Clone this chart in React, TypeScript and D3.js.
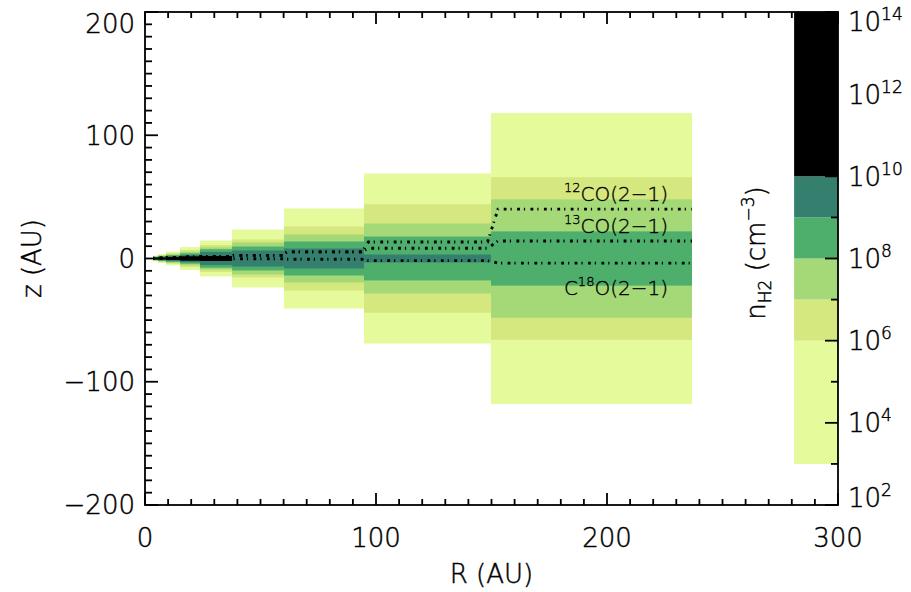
import React from 'react';
import * as d3 from 'd3';

const W = 911;
const H = 592;

// Radial cell edges (AU)
const rEdges = [3.5, 5.6, 9.1, 15.2, 23.8, 37.7, 60.2, 94.8, 149.8, 236.8];
// Half-thickness (AU) of each density zone in every cell
const hPale = [2.4, 3.6, 5.5, 9.3, 14.6, 23.5, 40.6, 69, 118];
const hYellow = [2.0, 2.9, 4.3, 7.0, 11.0, 15.4, 26.0, 44, 66];
const hLight = [1.6, 2.4, 3.5, 5.5, 9.0, 13.0, 19.5, 28.4, 48];
const hGreen = [1.3, 1.9, 2.8, 4.2, 7.5, 9.7, 13.8, 17.8, 22];
const hTeal = [1.0, 1.4, 2.0, 3.0, 5.3, 6.5, 8.1, 3.2, 0];
const hBlack = [0.6, 0.9, 1.2, 1.8, 2.0, 0, 0, 0, 0];

// Colour classes: log10 n_H2 bounds
const levelBounds = [3, 6, 7, 8, 9, 10, 14];
const levelColors = ['#e5fa9b', '#d5e77f', '#a5d978', '#4daf6b', '#357f6e', '#000000'];

// Emission layer heights (AU) per cell
const co12Z = [0.3, 0.5, 0.8, 1.2, 1.8, 2.6, 5.3, 13.4, 40];
const co13Z = [0.3, 0.5, 0.8, 1.2, 1.8, 2.6, 5.3, 8.3, 14.2];
const c18oZ = [0, 0, 0, -0.1, -0.2, -0.2, -0.6, -1.8, -3.7];

const lineIso = ['12', '13', '18'];
const lineTrans = '(2−1)';

const xTicks = [0, 100, 200, 300];
const zTicks = [-200, -100, 0, 100, 200];
const nExps = [2, 4, 6, 8, 10, 12, 14];

const FONT = "'DejaVu Sans', sans-serif";

export default function App() {
  const left = 145, right = 838, top = 12, bottom = 505;
  const x = d3.scaleLinear().domain([0, 300]).range([left, right]);
  const y = d3.scaleLinear().domain([-200, 200]).range([bottom, top]);
  const yn = d3.scaleLinear().domain([2, 14]).range([bottom, top]);

  const zones = [hPale, hYellow, hLight, hGreen, hTeal, hBlack];
  const nCells = rEdges.length - 1;

  const linePts = (zs: number[]) => {
    const pts: [number, number][] = [];
    for (let i = 0; i < nCells; i++) {
      const r0 = i === 0 ? rEdges[i] : rEdges[i] * 1.02;
      const r1 = i === nCells - 1 ? rEdges[i + 1] : rEdges[i + 1] * 0.99;
      pts.push([r0, zs[i]], [r1, zs[i]]);
    }
    return pts;
  };
  const lineGen = d3.line<[number, number]>().x(d => x(d[0])).y(d => y(d[1]));

  const minor = d3.range(0, 301, 10);
  const zMinor = d3.range(-200, 201, 10);
  const nMinor = d3.range(2, 15, 1);
  const sw = 1.8;

  const clampY = (v: number, lo: number, hi: number) => Math.max(lo, Math.min(hi, v));
  const txt = { fill: '#000', stroke: '#000', strokeWidth: 0.45 } as const;

  return (
    <svg width={W} height={H} style={{ position: 'absolute', left: 0, top: 0, background: '#fff' }}
      fontFamily={FONT} fontWeight={200}>
      <rect x={0} y={0} width={W} height={H} fill="#fff" />
      {/* density cells */}
      {zones.map((hz, k) =>
        hz.map((h, i) => h > 0 ? (
          <rect key={`c${k}-${i}`} x={x(rEdges[i])} width={x(rEdges[i + 1]) - x(rEdges[i])}
            y={y(h)} height={y(-h) - y(h)} fill={levelColors[k]} />
        ) : null)
      )}
      {/* emission layers */}
      {[co12Z, co13Z, c18oZ].map((zs, k) => (
        <path key={`l${k}`} d={lineGen(linePts(zs)) || ''} fill="none" stroke="#000"
          strokeWidth={2.8} strokeDasharray="1.2 5.4 2.8 4" />
      ))}
      {/* line labels */}
      <g fontSize={20} textAnchor="end" {...txt} strokeWidth={0.35}>
        <text x={x(226.4)} y={y(46.7)}>
          <tspan fontSize={13} dy={-9}>{lineIso[0]}</tspan>
          <tspan dy={9}>{'CO' + lineTrans}</tspan>
        </text>
        <text x={x(226.4)} y={y(20.7)}>
          <tspan fontSize={13} dy={-9}>{lineIso[1]}</tspan>
          <tspan dy={9}>{'CO' + lineTrans}</tspan>
        </text>
        <text x={x(226.4)} y={y(-29.6)}>
          <tspan>C</tspan>
          <tspan fontSize={13} dy={-9}>{lineIso[2]}</tspan>
          <tspan dy={9}>{'O' + lineTrans}</tspan>
        </text>
      </g>
      {/* axis ticks: left, top, bottom */}
      <g stroke="#000" strokeWidth={sw}>
        {zMinor.map(v => {
          const len = v % 100 === 0 ? 13 : 7;
          return <line key={`zl${v}`} x1={left} x2={left + len} y1={y(v)} y2={y(v)} />;
        })}
        {minor.map(v => {
          const len = v % 100 === 0 ? 12 : 6;
          return (
            <g key={`xt${v}`}>
              <line x1={x(v)} x2={x(v)} y1={bottom} y2={bottom - len} />
              <line x1={x(v)} x2={x(v)} y1={top} y2={top + len} />
            </g>
          );
        })}
      </g>
      {/* colour bar */}
      {levelColors.map((c, k) => (
        <rect key={`cb${k}`} x={x(281)} width={right - x(281)}
          y={yn(levelBounds[k + 1])} height={yn(levelBounds[k]) - yn(levelBounds[k + 1])} fill={c} />
      ))}
      {/* right axis ticks */}
      <g stroke="#000" strokeWidth={sw}>
        {nMinor.map(e => {
          const len = e % 2 === 0 ? 13 : 7;
          return <line key={`nt${e}`} x1={right} x2={right - len} y1={yn(e)} y2={yn(e)} />;
        })}
      </g>
      {/* frame */}
      <rect x={left} y={top} width={right - left} height={bottom - top} fill="none" stroke="#000" strokeWidth={sw} />
      {/* tick labels */}
      <g fontSize={26} {...txt}>
        {xTicks.map(v => (
          <text key={`xl${v}`} x={x(v)} y={547} textAnchor="middle">{String(v)}</text>
        ))}
        {zTicks.map(v => (
          <text key={`yl${v}`} x={135} y={clampY(y(v) + 9.5, 33, 514)} textAnchor="end">
            {v < 0 ? '−' + String(-v) : String(v)}
          </text>
        ))}
        {nExps.map(e => (
          <text key={`nl${e}`} x={848} y={clampY(yn(e) + 9.5, 31, 507)}>
            10<tspan fontSize={17} dy={-11}>{String(e)}</tspan>
          </text>
        ))}
      </g>
      {/* axis titles */}
      <g fontSize={26} {...txt}>
        <text x={(left + right) / 2} y={583} textAnchor="middle">R (AU)</text>
        <text transform={`translate(41, ${(top + bottom) / 2}) rotate(-90)`} textAnchor="middle">z (AU)</text>
        <text transform={`translate(765, 253) rotate(-90)`} textAnchor="middle">
          n<tspan fontSize={17} dy={6}>H2</tspan>
          <tspan dy={-6}>{' (cm'}</tspan>
          <tspan fontSize={17} dy={-11}>−3</tspan>
          <tspan dy={11}>)</tspan>
        </text>
      </g>
    </svg>
  );
}
